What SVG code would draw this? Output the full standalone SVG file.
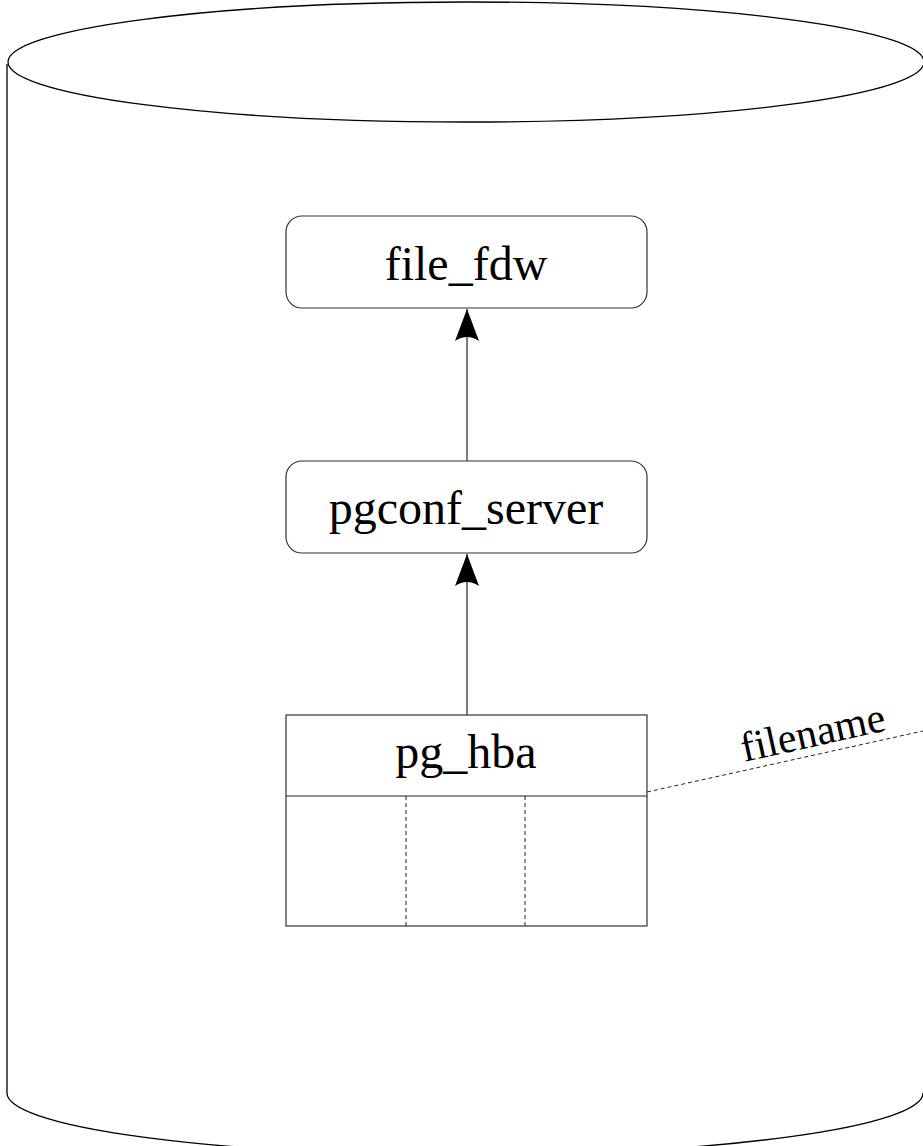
<svg xmlns="http://www.w3.org/2000/svg" width="923" height="1146" viewBox="0 0 923 1146">
  <style>
    .outline { fill: none; stroke: #000; stroke-width: 1.3; }
    .box { fill: #fff; stroke: #333; stroke-width: 1.2; }
    .label { font-family: "Liberation Serif", "DejaVu Serif", serif; font-size: 48px; fill: #000; text-anchor: middle; }
    .edge { stroke: #222; stroke-width: 1.2; fill: none; }
    .dash { stroke: #222; stroke-width: 1; stroke-dasharray: 4 3; fill: none; }
  </style>
  <defs>
    <marker id="arrow" viewBox="0 0 32 24" refX="32" refY="12" markerWidth="32" markerHeight="24" markerUnits="userSpaceOnUse" orient="auto">
      <path d="M32 12 L0 0 Q8 12 0 24 Z" fill="#000"/>
    </marker>
  </defs>
  <rect width="923" height="1146" fill="#fff"/>

  <!-- database cylinder -->
  <g id="database">
    <path class="outline" d="M7 64 L7 1093 A458 62 0 0 0 923 1093"/>
    <ellipse class="outline" cx="466" cy="62" rx="458" ry="60"/>
  </g>

  <!-- connectors -->
  <g id="connectors">
    <line class="edge" x1="467" y1="461" x2="467" y2="309" marker-end="url(#arrow)"/>
    <line class="edge" x1="467" y1="715" x2="467" y2="554" marker-end="url(#arrow)"/>
    <line class="dash" x1="647" y1="792" x2="923" y2="731"/>
    <text font-family="Liberation Serif, serif" font-size="42" transform="translate(744 762) rotate(-12.5)">filename</text>
  </g>

  <g id="file_fdw">
    <rect class="box" x="286" y="216" width="361" height="92" rx="16"/>
    <text class="label" x="466" y="280">file_fdw</text>
  </g>

  <g id="pgconf_server">
    <rect class="box" x="286" y="461" width="361" height="92" rx="16"/>
    <text class="label" x="466" y="524">pgconf_server</text>
  </g>

  <g id="pg_hba">
    <rect class="box" x="286" y="715" width="361" height="211"/>
    <line class="edge" x1="286" y1="796" x2="647" y2="796"/>
    <line class="dash" x1="406" y1="796" x2="406" y2="926"/>
    <line class="dash" x1="525" y1="796" x2="525" y2="926"/>
    <text class="label" x="466" y="768">pg_hba</text>
  </g>
</svg>
